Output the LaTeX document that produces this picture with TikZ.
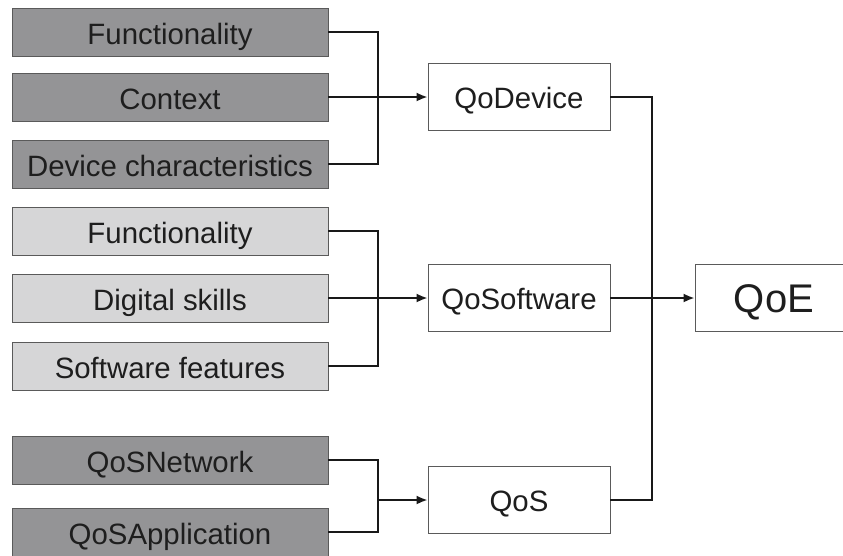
\documentclass[tikz,border=0pt]{standalone}
\usepackage{fontspec}
\setmainfont{Liberation Sans}
\usetikzlibrary{arrows.meta}
\definecolor{darkfill}{RGB}{148,148,150}
\definecolor{lightfill}{RGB}{214,214,215}
\definecolor{edgegray}{RGB}{90,90,90}
\definecolor{txt}{RGB}{30,30,30}
\begin{document}
\begin{tikzpicture}[x=1pt,y=-1pt,
  inbox/.style={rectangle,draw=edgegray,line width=0.8pt,minimum width=316pt,minimum height=48pt,inner sep=0pt,text=txt,font=\fontsize{29.4}{33}\selectfont,text height=25pt,text depth=0pt},
  darkbox/.style={inbox,fill=darkfill},
  lightbox/.style={inbox,fill=lightfill},
  midbox/.style={rectangle,draw=edgegray,line width=0.8pt,fill=white,minimum width=182pt,minimum height=67pt,inner sep=0pt,text=txt,font=\fontsize{29.4}{33}\selectfont,text height=23pt,text depth=0pt},
  conn/.style={line width=2pt,draw=black!90},
  arr/.style={conn,-{Latex[length=11pt,width=9pt]}}]
\useasboundingbox (0,0) rectangle (843,555);
\clip (0,0) rectangle (843,555);
% input boxes
\node[darkbox] (f1) at (170,32) {Functionality};
\node[darkbox] (f2) at (170,97) {Context};
\node[darkbox] (f3) at (170,164) {Device characteristics};
\node[lightbox] (s1) at (170,231) {Functionality};
\node[lightbox] (s2) at (170,298) {Digital skills};
\node[lightbox] (s3) at (170,366) {Software features};
\node[darkbox] (n1) at (170,460) {QoSNetwork};
\node[darkbox] (n2) at (170,532) {QoSApplication};
% middle boxes
\node[midbox] (qd) at (519,97) {QoDevice};
\node[midbox] (qs) at (519,298) {QoSoftware};
\node[midbox] (qos) at (519,500) {QoS};
\node[midbox,minimum width=158pt,font=\fontsize{40}{44}\selectfont,text height=28.6pt] (qoe) at (774,298) {QoE};
% junctions
\coordinate (j1) at (378,97);
\coordinate (j2) at (378,298);
\coordinate (j3) at (378,500);
\coordinate (j4) at (652,298);
% connectors group 1
\draw[conn] (f1.east) -| (j1) |- (f3.east);
\draw[arr] (f2.east) -- (qd.west);
% group 2
\draw[conn] (s1.east) -| (j2) |- (s3.east);
\draw[arr] (s2.east) -- (qs.west);
% group 3
\draw[conn] (n1.east) -| (j3) |- (n2.east);
\draw[arr] (j3) -- (qos.west);
% to QoE
\draw[conn] (qd.east) -| (j4) |- (qos.east);
\draw[arr] (qs.east) -- (qoe.west);
\end{tikzpicture}
\end{document}
